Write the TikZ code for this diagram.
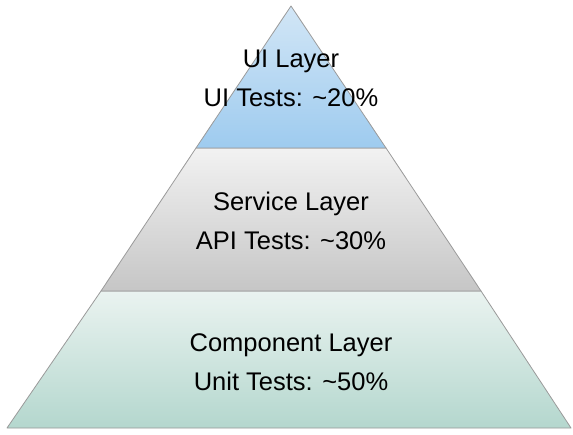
\documentclass[tikz,border=0pt]{standalone}
\usepackage{fontspec}
\setmainfont{Liberation Sans}
\usetikzlibrary{calc}
\definecolor{uitop}{HTML}{D2E6F6}
\definecolor{uibot}{HTML}{9ECBEF}
\definecolor{svtop}{HTML}{F2F2F2}
\definecolor{svbot}{HTML}{C6C6C6}
\definecolor{cptop}{HTML}{EAF3F0}
\definecolor{cpbot}{HTML}{B4D7CE}
\definecolor{edge}{HTML}{9A9A9A}
\tikzset{
  layer/.style={draw=edge, line width=0.8pt, line join=round},
  label/.style={font=\fontsize{25.5}{39}\selectfont, align=center, text=black, inner sep=0pt}
}
\begin{document}
\begin{tikzpicture}[x=1pt,y=1pt]
\useasboundingbox (0,0) rectangle (573,434);
\fill[white] (0,0) rectangle (573,434);
% corners of the three layers
\coordinate (apex) at (291,428);
\coordinate (l1) at (196,286);
\coordinate (r1) at (386,286);
\coordinate (l2) at (101,143);
\coordinate (r2) at (481,143);
\coordinate (l3) at (7,6);
\coordinate (r3) at (571,6);
% bottom layer
\draw[layer, top color=cptop, bottom color=cpbot] (l2) -- (r2) -- (r3) -- (l3) -- cycle;
% middle layer
\draw[layer, top color=svtop, bottom color=svbot] (l1) -- (r1) -- (r2) -- (l2) -- cycle;
% top layer
\draw[layer, top color=uitop, bottom color=uibot] (apex) -- (r1) -- (l1) -- cycle;
% captions
\node[label] (ui) at (291,356) {UI Layer\\UI Tests: \textasciitilde20\%};
\node[label] (sv) at (291,213) {Service Layer\\API Tests: \textasciitilde30\%};
\node[label] (cp) at (291,72) {Component Layer\\Unit Tests: \textasciitilde50\%};
\end{tikzpicture}
\end{document}
